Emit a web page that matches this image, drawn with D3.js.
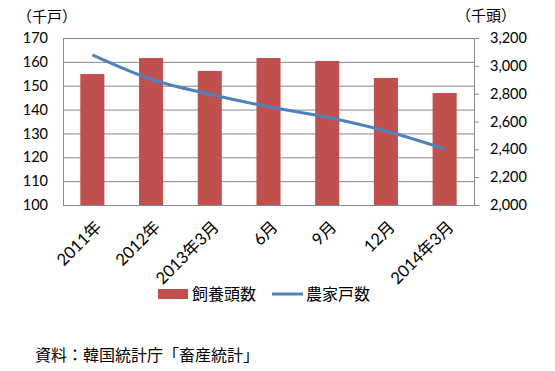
<!DOCTYPE html>
<html>
<head>
<meta charset="utf-8">
<script src="https://cdn.jsdelivr.net/npm/d3@7"></script>
<style>
  body { margin: 0; background: #fff; }
  svg { display: block; }
  .cjk { font-family: "Noto Sans CJK JP", sans-serif; }
</style>
</head>
<body>
<svg id="chart" width="555" height="371"></svg>
<script>
// data
const categories = ["2011年", "2012年", "2013年3月", "6月", "9月", "12月", "2014年3月"];
const headCount = [2941, 3056, 2963, 3056, 3035, 2913, 2805]; // 飼養頭数 (千頭), right axis
const farmHouseholds = [162.9, 152.7, 146.4, 141.2, 136.8, 131.0, 123.5]; // 農家戸数 (千戸), left axis
const leftTicks = [100, 110, 120, 130, 140, 150, 160, 170];
const rightTicks = [2000, 2200, 2400, 2600, 2800, 3000, 3200];

const svg = d3.select("#chart");
const margin = { top: 38, right: 81, bottom: 166, left: 63 };
const width = 555 - margin.left - margin.right;
const height = 371 - margin.top - margin.bottom;
const gridColor = "#898989";
const barColor = "#C0504D";
const lineColor = "#4F81BD";
const numFont = "Lato, 'Noto Sans CJK JP', sans-serif";

const chart = svg.append("g")
  .attr("transform", `translate(${margin.left}, ${margin.top})`);

const x = d3.scaleBand()
  .domain(categories)
  .range([0, width])
  .paddingInner(0.59)
  .paddingOuter(0.295);

const yLeft = d3.scaleLinear().domain([100, 170]).range([height, 0]);
const yRight = d3.scaleLinear().domain([2000, 3200]).range([height, 0]);

// gridlines
chart.append("g")
  .call(d3.axisLeft(yLeft).tickValues(leftTicks).tickSize(-width).tickFormat(""))
  .call(g => g.select(".domain").remove())
  .selectAll("line").attr("stroke", gridColor);

// bars
chart.selectAll("rect.bar")
  .data(categories)
  .enter()
  .append("rect")
  .attr("class", "bar")
  .attr("x", d => x(d))
  .attr("y", (d, i) => yRight(headCount[i]))
  .attr("width", x.bandwidth())
  .attr("height", (d, i) => height - yRight(headCount[i]))
  .attr("fill", barColor);

// line
const line = d3.line()
  .x((d, i) => x(categories[i]) + x.bandwidth() / 2)
  .y(d => yLeft(d))
  .curve(d3.curveCatmullRom.alpha(0));

chart.append("path")
  .datum(farmHouseholds)
  .attr("fill", "none")
  .attr("stroke", lineColor)
  .attr("stroke-width", 3)
  .attr("d", line);

// left axis
const leftAxis = chart.append("g")
  .call(d3.axisLeft(yLeft).tickValues(leftTicks).tickSize(0).tickPadding(15));
leftAxis.select(".domain").attr("stroke", gridColor);
leftAxis.selectAll("text")
  .attr("font-family", numFont).attr("font-size", 14.5).attr("fill", "#000");

// right axis
const rightAxis = chart.append("g")
  .attr("transform", `translate(${width}, 0)`)
  .call(d3.axisRight(yRight).tickValues(rightTicks).tickSizeOuter(0).tickSize(5).tickFormat(d3.format(",")).tickPadding(11));
rightAxis.select(".domain").attr("stroke", gridColor);
rightAxis.selectAll("line").attr("stroke", gridColor);
rightAxis.selectAll("text")
  .attr("font-family", numFont).attr("font-size", 14.5).attr("fill", "#000");

// x axis
const xAxis = chart.append("g")
  .attr("transform", `translate(0, ${height})`)
  .call(d3.axisBottom(x).tickSize(0).tickPadding(0));
xAxis.select(".domain").attr("stroke", gridColor);
xAxis.selectAll("text")
  .attr("font-family", numFont)
  .attr("font-size", 16.5)
  .attr("fill", "#000")
  .attr("text-anchor", "end")
  .attr("dy", "0.35em")
  .attr("transform", "translate(6, 19) rotate(-45)");

// axis titles
svg.append("text")
  .attr("class", "cjk")
  .attr("x", 17).attr("y", 22)
  .attr("font-size", 15)
  .text("（千戸）");

svg.append("text")
  .attr("class", "cjk")
  .attr("x", 456).attr("y", 21)
  .attr("font-size", 15)
  .text("（千頭）");

// legend
const legend = svg.append("g").attr("transform", "translate(158, 294)");
legend.append("rect")
  .attr("x", 0).attr("y", -5).attr("width", 30).attr("height", 10)
  .attr("fill", barColor);
legend.append("text")
  .attr("class", "cjk")
  .attr("x", 34).attr("y", 0).attr("dy", "0.35em")
  .attr("font-size", 16)
  .text("飼養頭数");
legend.append("line")
  .attr("x1", 114).attr("x2", 145).attr("y1", 0).attr("y2", 0)
  .attr("stroke", lineColor).attr("stroke-width", 3);
legend.append("text")
  .attr("class", "cjk")
  .attr("x", 148).attr("y", 0).attr("dy", "0.35em")
  .attr("font-size", 16)
  .text("農家戸数");

// source note
svg.append("text")
  .attr("x", 35).attr("y", 361)
  .attr("font-family", "'Noto Sans CJK JP', sans-serif")
  .attr("font-size", 16)
  .text("資料：韓国統計庁「畜産統計」");
</script>
</body>
</html>
